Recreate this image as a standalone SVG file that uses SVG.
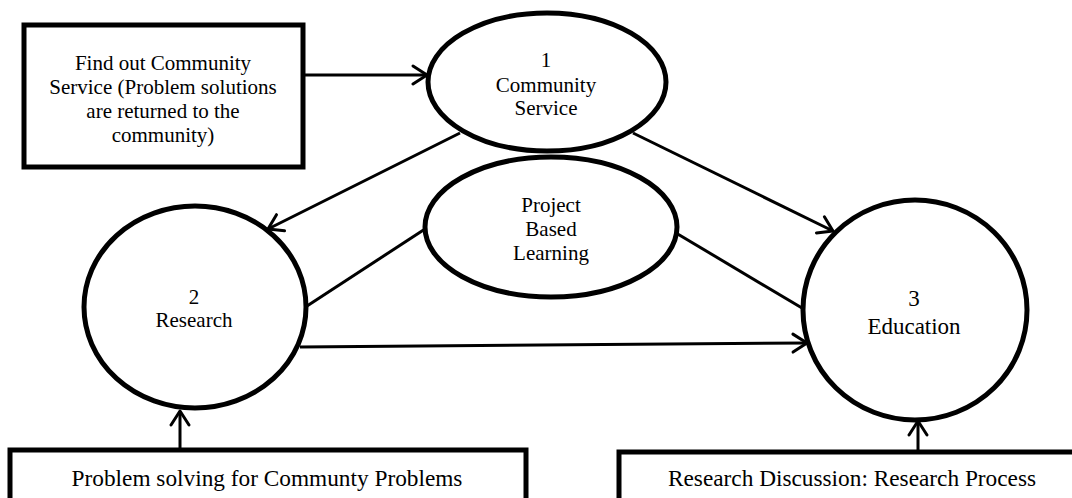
<svg xmlns="http://www.w3.org/2000/svg" width="1072" height="498" viewBox="0 0 1072 498">
<style>
.n{fill:#fff;stroke:#000;stroke-width:5}
.c{fill:none;stroke:#000;stroke-width:3}
text{font-family:'Liberation Serif','Times New Roman',Times,'DejaVu Serif',serif;font-size:21px;fill:#000;text-anchor:middle;dominant-baseline:central}
.big{font-size:23px}
.bb{font-size:23.3px}
</style>
<defs>
<marker id="a" markerUnits="userSpaceOnUse" markerWidth="22" markerHeight="24" refX="17" refY="11" orient="auto" viewBox="0 0 22 24">
<path d="M3,2 L17,11 L3,20" fill="none" stroke="#000" stroke-width="3" stroke-linecap="round" stroke-linejoin="round"/>
</marker>
</defs>
<g id="connectors">
<line class="c" x1="303" y1="75" x2="427" y2="75" marker-end="url(#a)"/>
<line class="c" x1="460" y1="133" x2="268" y2="229" marker-end="url(#a)"/>
<line class="c" x1="633" y1="133" x2="833" y2="231" marker-end="url(#a)"/>
<line class="c" x1="425" y1="229" x2="307" y2="306"/>
<line class="c" x1="676" y1="233" x2="802" y2="308"/>
<line class="c" x1="300" y1="347" x2="807" y2="343" marker-end="url(#a)"/>
<line class="c" x1="180" y1="450" x2="180" y2="411" marker-end="url(#a)"/>
<line class="c" x1="918" y1="452" x2="918" y2="421" marker-end="url(#a)"/>
</g>
<g id="findout">
<rect class="n" x="24" y="25" width="279" height="142"/>
<text x="163" y="63">Find out Community</text>
<text x="163" y="87">Service (Problem solutions</text>
<text x="163" y="111">are returned to the</text>
<text x="163" y="135">community)</text>
</g>
<g id="community">
<ellipse class="n" cx="547" cy="82" rx="119" ry="69"/>
<text x="546" y="60">1</text>
<text x="546" y="85">Community</text>
<text x="546" y="108">Service</text>
</g>
<g id="pbl">
<ellipse class="n" cx="551" cy="227" rx="126" ry="70"/>
<text x="551" y="205">Project</text>
<text x="551" y="229">Based</text>
<text x="551" y="253">Learning</text>
</g>
<g id="research">
<ellipse class="n" cx="195" cy="307" rx="111" ry="101"/>
<text x="194" y="297">2</text>
<text x="194" y="320">Research</text>
</g>
<g id="education">
<ellipse class="n" cx="915" cy="310" rx="112" ry="110"/>
<text class="big" x="914" y="298">3</text>
<text class="big" x="914" y="326">Education</text>
</g>
<g id="problem">
<rect class="n" x="10" y="450" width="516" height="70"/>
<text class="bb" x="267" y="478">Problem solving for Communty Problems</text>
</g>
<g id="discussion">
<rect class="n" x="619" y="452" width="466" height="70"/>
<text class="bb" x="852" y="478">Research Discussion: Research Process</text>
</g>
</svg>
